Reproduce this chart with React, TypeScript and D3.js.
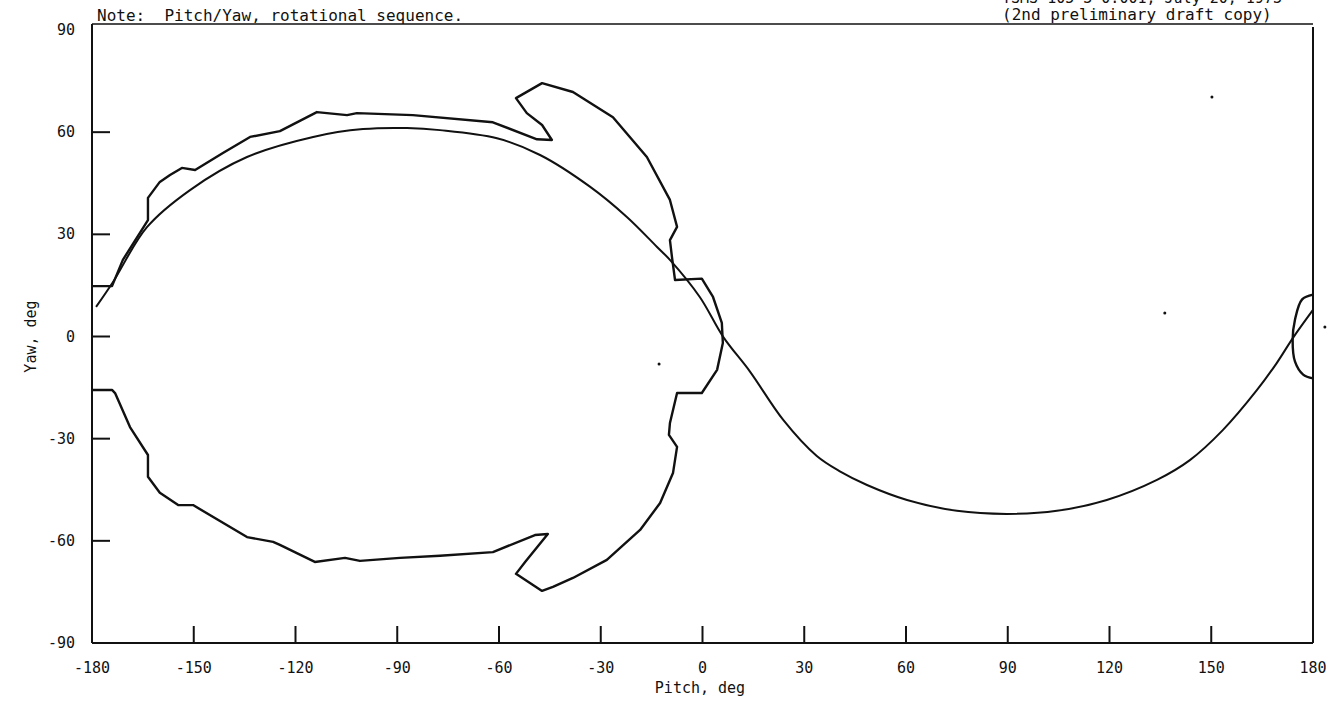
import * as d3 from "d3";

// smooth pitch/yaw track (sine-like curve)
const trackPitch = [
  -178.8, -173.8, -163.8, -151.1, -134.3, -114.8, -100.1, -87.1, -77.4, -60.6,
  -47.9, -33.2, -22.3, -13.4, -9.6, -0.8, 6.1, 14.0, 23.8, 33.7, 40.5, 48.5,
  60.3, 75.0, 89.7, 104.5, 119.2, 134.0, 143.7, 153.4, 163.5, 169.3, 174.1, 180,
];
const trackYaw = [
  8.7, 16.0, 32.1, 43.0, 52.7, 58.6, 60.9, 61.2, 60.6, 58.2, 53.3, 44.0, 35.1,
  26.3, 22.5, 11.6, -0.1, -10.3, -24.5, -35.1, -39.6, -43.6, -48.0, -51.2, -52.1,
  -51.2, -48.0, -42.1, -36.3, -27.5, -15.7, -7.8, -0.4, 7.8,
];

// outer boundary (left lobe)
const outlinePitch = [
  -180, -174.1, -170.9, -163.5, -163.5, -160, -157, -153.5, -149.6, -141.4,
  -133.4, -124.6, -113.7, -104.8, -101.9, -85.4, -61.8, -48.8, -44.4, -47.3,
  -51.8, -55.0, -47.3, -38.2, -26.4, -16.4, -9.6, -7.5, -9.6, -9.0, -8.1, -0.2,
  3.1, 5.7, 6.0, 4.3, -0.2, -7.5, -9.6, -9.9, -7.5, -8.7, -12.5, -18.4, -28.2,
  -38.2, -44.1, -47.3, -55.0, -52.3, -45.6, -49.4, -61.8, -77.4, -89.2, -101.0,
  -105.4, -114.3, -124.6, -126.6, -134.3, -150.2, -154.6, -160, -163.5, -163.5,
  -168.8, -173.2, -174.1, -180,
];
const outlineYaw = [
  14.8, 14.8, 22.5, 34.2, 40.7, 45.4, 47.4, 49.5, 48.9, 53.9, 58.6, 60.3, 65.9,
  65.0, 65.6, 65.0, 62.9, 57.9, 57.7, 62.1, 65.6, 70.0, 74.4, 71.8, 64.4, 52.7,
  40.1, 32.2, 28.3, 23.3, 16.6, 17.0, 11.6, 4.0, -1.9, -9.8, -16.6, -16.6,
  -25.4, -28.9, -32.4, -40.1, -48.9, -56.8, -65.6, -70.9, -73.5, -74.7, -69.7,
  -66.2, -58.0, -58.3, -63.3, -64.4, -65.0, -65.9, -65.0, -66.2, -61.2, -60.3,
  -58.9, -49.5, -49.5, -45.9, -41.2, -34.8, -26.6, -16.6, -15.7, -15.7,
];

// small loop at the right edge
const loopPitch = [180, 176.8, 174.7, 174.0, 174.7, 177.1, 180];
const loopYaw = [12.3, 10.9, 5.0, -1.0, -7.4, -11.2, -12.3];

// scan specks
const speckPitch = [-12.8, 136.3, 150.2, 183.5];
const speckYaw = [-8.1, 6.9, 70.3, 2.8];

const xTickValues = [-180, -150, -120, -90, -60, -30, 0, 30, 60, 90, 120, 150, 180];
const yTickValues = [90, 60, 30, 0, -30, -60, -90];

const FONT = "'DejaVu Sans Mono', 'Liberation Mono', monospace";
const INK = "#111";

export default function App() {
  const width = 1335;
  const height = 702;
  const x = d3.scaleLinear().domain([-180, 180]).range([92, 1313]);
  const y = d3.scaleLinear().domain([-90, 90]).range([643, 30]);
  const frameTop = 24;

  const toPts = (ps: number[], ys: number[]) => ps.map((p, i) => [p, ys[i]] as [number, number]);

  const smooth = d3
    .line<[number, number]>()
    .x((d) => x(d[0]))
    .y((d) => y(d[1]))
    .curve(d3.curveCatmullRom.alpha(0.5));
  const straight = d3
    .line<[number, number]>()
    .x((d) => x(d[0]))
    .y((d) => y(d[1]));

  const innerX = xTickValues.filter((v) => v > -180 && v < 180);
  const innerY = yTickValues.filter((v) => v > -90 && v < 90);

  return (
    <svg
      width={width}
      height={height}
      style={{ position: "absolute", left: 0, top: 0, background: "#fff" }}
    >
      <rect width={width} height={height} fill="#fff" />

      {/* header text */}
      <text x={97} y={21} fontFamily={FONT} fontSize={16} fill={INK} xmlSpace="preserve">
        {"Note:  Pitch/Yaw, rotational sequence."}
      </text>
      <text x={1002} y={3} fontFamily={FONT} fontSize={15} fill={INK}>
        TSMS 105-3-0.001, July 20, 1973
      </text>
      <text x={1002} y={20} fontFamily={FONT} fontSize={16} fill={INK}>
        (2nd preliminary draft copy)
      </text>

      {/* frame */}
      <line x1={x(-180)} x2={x(180)} y1={frameTop} y2={frameTop} stroke={INK} strokeWidth={1.3} />
      <line x1={x(-180)} x2={x(-180)} y1={frameTop} y2={y(-90)} stroke={INK} strokeWidth={2} />
      <line x1={x(180)} x2={x(180)} y1={frameTop + 3} y2={y(-90)} stroke={INK} strokeWidth={2} />
      <line x1={x(-180)} x2={x(180)} y1={y(-90)} y2={y(-90)} stroke={INK} strokeWidth={2} />

      {/* ticks */}
      {innerX.map((v) => (
        <line key={"xt" + v} x1={x(v)} x2={x(v)} y1={y(-90)} y2={y(-90) - 17} stroke={INK} strokeWidth={2} />
      ))}
      {innerY.map((v) => (
        <line key={"yt" + v} x1={x(-180)} x2={x(-180) + 18} y1={y(v)} y2={y(v)} stroke={INK} strokeWidth={2} />
      ))}

      {/* tick labels */}
      {xTickValues.map((v) => (
        <text key={"xl" + v} x={x(v)} y={673} textAnchor="middle" fontFamily={FONT} fontSize={15} fill={INK}>
          {v}
        </text>
      ))}
      {yTickValues.map((v) => (
        <text key={"yl" + v} x={75} y={y(v) + 5} textAnchor="end" fontFamily={FONT} fontSize={15} fill={INK}>
          {v}
        </text>
      ))}

      {/* axis titles */}
      <text x={700} y={693} textAnchor="middle" fontFamily={FONT} fontSize={15} fill={INK}>
        Pitch, deg
      </text>
      <text
        transform={`translate(36,${y(0)}) rotate(-90)`}
        textAnchor="middle"
        fontFamily={FONT}
        fontSize={15}
        fill={INK}
      >
        Yaw, deg
      </text>

      {/* curves */}
      <path d={smooth(toPts(trackPitch, trackYaw)) || ""} fill="none" stroke={INK} strokeWidth={2} />
      <path d={straight(toPts(outlinePitch, outlineYaw)) || ""} fill="none" stroke={INK} strokeWidth={2.4} strokeLinejoin="round" />
      <path d={smooth(toPts(loopPitch, loopYaw)) || ""} fill="none" stroke={INK} strokeWidth={2.4} />

      {speckPitch.map((p, i) => (
        <circle key={"s" + i} cx={x(p)} cy={y(speckYaw[i])} r={1.5} fill={INK} />
      ))}
    </svg>
  );
}
